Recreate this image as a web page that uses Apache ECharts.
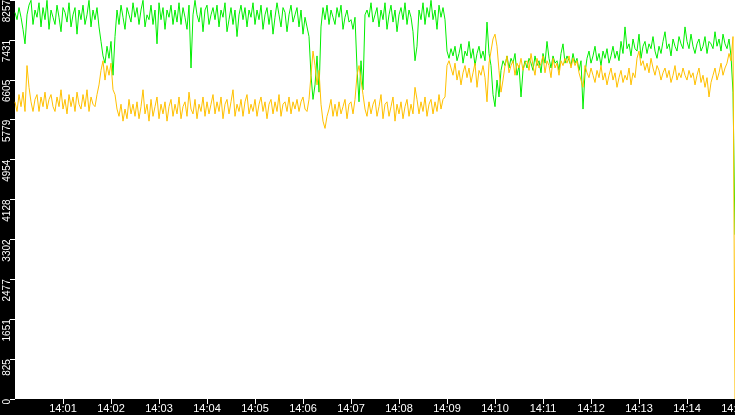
<!DOCTYPE html>
<html>
<head>
<meta charset="utf-8">
<script src="https://cdn.jsdelivr.net/npm/echarts@6/dist/echarts.min.js"></script>
<style>
html,body{margin:0;padding:0;background:#000;}
#chart{width:735px;height:415px;}
</style>
</head>
<body>
<div id="chart"></div>
<script>
// Sample spacing (seconds after 14:00)
const sampleSeconds = 2.5;

const xTickLabels = ['14:00','14:01','14:02','14:03','14:04','14:05','14:06','14:07','14:08','14:09','14:10','14:11','14:12','14:13','14:14','14:15'];
const yTickLabels = ['0','825','1651','2477','3302','4128','4954','5779','6605','7431','8257'];

const greenValues = [
8000,7850,8100,7900,7650,7350,7950,8150,8250,7750,8050,7900,8200,7700,8100,7850,8250,7650,8050,7900,
7750,8150,7900,7600,8100,8000,7800,8200,7700,7950,8100,7550,8050,7850,8150,7750,7950,8250,7700,8050,
7850,8100,7700,7400,7100,6950,7300,7050,7400,6700,7500,8050,7750,8150,7900,7650,8100,7950,7800,8200,
7900,8100,7750,8050,8250,7700,7950,7850,8150,7750,8050,7350,8200,7850,8100,7650,8050,7900,8150,7750,
8050,7800,8200,7750,8100,7900,7650,8150,6850,7950,8250,7950,7800,8100,7600,8050,8150,7750,7950,8100,
7850,8150,7700,8050,7900,8200,7600,7850,8100,7750,8050,7500,7950,8150,7850,8100,7700,8050,7900,8200,
7750,8050,7850,8150,7650,7950,8100,7750,8050,7550,7900,8200,7950,7700,8100,8000,7600,7950,8150,7800,
7950,8100,7700,8050,7550,7900,7700,7500,6700,6200,6500,7100,6350,7700,8100,7850,8150,7750,8050,7900,
7750,8100,7900,8150,7650,7900,8050,7800,7850,7650,7900,6850,6150,7000,6400,7950,8050,7900,8200,7800,
7950,8100,7700,8050,7850,8200,7650,7950,8150,7800,8050,7600,7950,8100,7850,8200,7750,8050,7900,7600,
7000,7300,8050,7850,8200,7750,8100,7900,8250,7850,8050,7650,8150,7900,8100,7850,
7200,7050,7250,7100,7300,7000,7150,7350,6950,7200,7100,7400,7050,7250,6900,7150,7300,7050,7200,7000,
7800,7150,6900,6300,6050,6600,6250,6800,7000,6900,7100,6850,7050,6950,7150,6700,6900,6250,6800,7000,
6850,7050,6950,6800,7100,6900,7000,6750,7150,6950,7400,7050,6850,7100,6950,7000,6800,7150,7350,6950,
7100,7000,6900,7150,6950,7050,6800,7000,6000,6750,7050,7200,6950,7100,7300,7000,7150,6900,7200,7050,
7250,6950,7100,7300,7050,7200,7000,7400,7150,7700,7250,7350,7100,7450,7250,7200,7550,7050,7300,7400,
7150,7350,7250,7500,7200,7050,7300,7150,7400,7600,7250,7350,7100,7450,7300,7200,7500,7350,7250,7700,
7400,7250,7550,7300,7150,7350,7450,7200,7300,7500,7150,7400,7350,7250,7600,7300,7450,7200,7550,7350,
7250,7450,7100,6350,3400
];

const orangeValues = [
6150,5950,6300,6050,6350,5950,6900,6450,6150,5950,6200,6300,5950,6250,6050,6350,6000,6200,6300,6050,
5950,6250,6050,6400,6000,6200,5900,6300,6050,6250,5950,6350,6100,6000,6300,6050,6400,5950,6250,6100,
6050,6300,6500,6800,7000,6600,6900,6700,6950,6400,6300,6000,5850,6100,5750,6000,5800,6200,5900,6100,
5850,6150,5800,6050,6400,5900,6100,5750,6200,5850,6050,6250,5800,6100,5900,6150,5750,6050,6200,5850,
6100,5900,6250,5800,6050,6150,5850,6350,6000,5900,6200,5800,6100,5950,6250,5850,6150,5900,6100,6300,
5900,6150,5950,6250,5800,6100,6200,5900,6150,6400,5850,6100,5950,6200,5850,6150,6300,5900,6100,5950,
6200,5850,6100,6250,5950,6150,5800,6100,6200,5900,6150,5950,6300,5850,6100,6150,5950,6250,5900,6150,
6000,6200,5950,6150,6250,6000,5950,6200,6700,7200,6900,6500,6800,6100,5750,5600,5850,6000,6200,5850,
6100,5850,6150,5900,6050,6200,5800,6100,6150,5900,6200,6700,6900,6600,6300,6000,5850,6150,5900,6100,
6200,5850,6050,6300,5800,6100,6150,5850,6050,6250,5750,6100,5900,6150,5800,6050,6200,5850,6100,5900,
6450,6200,5900,6150,5950,6250,5850,6100,6200,5900,6150,5950,6300,6000,6200,6250,
6900,7000,6850,6700,6950,6600,6800,6500,6750,6900,6650,6850,6550,6750,6950,6450,6800,6700,6900,6650,
6150,6950,7200,7450,7550,7300,6800,6350,6600,6900,7100,6750,6900,7000,6700,6950,6850,7050,6800,6950,
7000,6800,7150,6900,6700,7050,6850,6950,7100,6750,7000,6900,6650,7050,6850,6950,6700,7000,6900,7050,
6950,7100,6850,7050,6900,7000,6750,6600,6450,6900,6750,6650,6850,6700,6550,6800,6650,6900,6600,6750,
6500,6700,6850,6600,6750,6450,6650,6800,6550,6700,6600,6850,6500,6750,6650,7050,7200,6900,7000,6800,
6950,6750,7050,6850,6700,6900,6800,6600,6750,6850,6650,6800,6550,6700,6900,6600,6750,6650,6850,6700,
6600,6800,6650,6750,6500,6700,6850,6550,6700,6450,6650,6250,6550,6700,6850,6600,6750,6950,6700,6850,
6950,7150,7000,7500,0
];

function toPairs(vals){ return vals.map((v,i)=>[i*sampleSeconds, v]); }

const yMax = 8257;
const yStep = yMax / 10;

const chart = echarts.init(document.getElementById('chart'), null, {renderer:'canvas'});
chart.setOption({
  backgroundColor:'#000',
  animation:false,
  grid:{left:15,right:0,top:0,bottom:16,show:true,backgroundColor:'#fff',borderWidth:0,
        containLabel:false,outerBoundsMode:'none'},
  xAxis:{
    type:'value', min:0, max:900, interval:60,
    axisLine:{show:false},
    axisTick:{show:true,length:5,lineStyle:{color:'#fff',width:1}},
    splitLine:{show:false},
    axisLabel:{color:'#fff',fontFamily:'Liberation Sans',fontSize:11,margin:4,showMinLabel:false,showMaxLabel:true,
      hideOverlap:false,
      formatter:(v)=>xTickLabels[Math.round(v/60)]}
  },
  yAxis:{
    type:'value', min:0, max:yMax, interval:yStep,
    axisLine:{show:false},
    axisTick:{show:true,length:5,lineStyle:{color:'#fff',width:1}},
    splitLine:{show:false},
    axisLabel:{color:'#fff',fontFamily:'Liberation Sans',fontSize:10,rotate:90,margin:8,
      align:'right',verticalAlign:'middle',showMinLabel:true,showMaxLabel:true,
      formatter:(v)=>yTickLabels[Math.round(v/yStep)]}
  },
  series:[
    {type:'line',data:toPairs(greenValues),showSymbol:false,symbol:'none',
     lineStyle:{color:'#00ee00',width:1},itemStyle:{color:'#00ee00'}},
    {type:'line',data:toPairs(orangeValues),showSymbol:false,symbol:'none',
     lineStyle:{color:'#ffc000',width:1},itemStyle:{color:'#ffc000'}}
  ]
});
</script>
</body>
</html>
